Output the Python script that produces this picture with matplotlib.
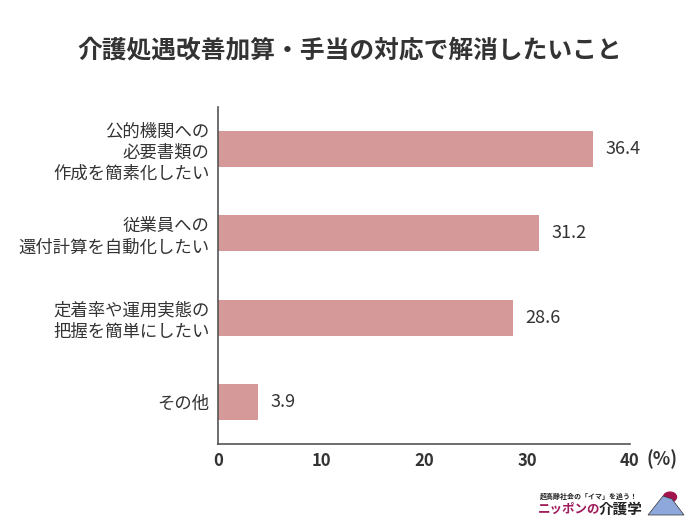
import matplotlib
matplotlib.use("Agg")
import matplotlib.pyplot as plt
from matplotlib.patches import Polygon, Circle

plt.rcParams['font.family'] = ['Noto Sans CJK JP', 'DejaVu Sans']

categories = ["公的機関への\n必要書類の\n作成を簡素化したい",
              "従業員への\n還付計算を自動化したい",
              "定着率や運用実態の\n把握を簡単にしたい",
              "その他"]
values = [36.4, 31.2, 28.6, 3.9]
xticks = [0, 10, 20, 30, 40]
title = "介護処遇改善加算・手当の対応で解消したいこと"

text_color = "#333333"
bar_color = "#D69999"

fig = plt.figure(figsize=(7, 5.25), dpi=100)
ax = fig.add_axes([218/700, 1-444/525, (630-218)/700, (444-107)/525])

y = list(range(len(categories)))
ax.barh(y, values, height=0.43, color=bar_color)
ax.set_ylim(3.5, -0.5)
ax.set_xlim(0, 40)
ax.set_yticks(y)
ax.set_yticklabels(categories, fontsize=12.5, color=text_color, linespacing=1.24)
ax.set_xticks(xticks)
ax.set_xticklabels([str(t) for t in xticks], fontsize=12, fontweight='bold', color=text_color)
ax.tick_params(axis='both', length=0)
ax.tick_params(axis='x', pad=6)
ax.tick_params(axis='y', pad=6)
for s in ['top', 'right']:
    ax.spines[s].set_visible(False)
for s in ['left', 'bottom']:
    ax.spines[s].set_color('#555555')
    ax.spines[s].set_linewidth(1.2)

for yi, v in zip(y, values):
    ax.text(v + 1.2, yi, f"{v}", va='center', ha='left', fontsize=13, color=text_color)

fig.text(647/700, 1-459/525, "(%)", ha='left', va='center', fontsize=13,
         fontweight='bold', color=text_color)

fig.text(0.5, 1-50/525, title, ha='center', va='center', fontsize=17.8,
         fontweight='bold', color=text_color)

# logo
fig.text(540/700, 1-496/525, "超高齢社会の「イマ」を追う！", ha='left', va='center',
         fontsize=5, fontweight='bold', color='#222222')
fig.text(538/700, 1-509/525, "ニッポンの", ha='left', va='center',
         fontsize=9, fontweight='bold', color='#9E1A5A')
fig.text(599/700, 1-509/525, "介護学", ha='left', va='center',
         fontsize=10.5, fontweight='bold', color='#222222')
fig.patches.append(Circle((670/700, 1-497/525), 6.5/700, transform=fig.transFigure,
                          color='#A3124C', zorder=1))
fig.patches.append(Polygon([(648/700, 1-515/525), (663/700, 1-496/525), (672/700, 1-499/525),
                            (684/700, 1-515/525)], closed=True,
                           transform=fig.transFigure, facecolor='#8FA8DC',
                           edgecolor='#333333', linewidth=0.5, zorder=2))

fig.savefig("out.png", dpi=100, facecolor='white')
